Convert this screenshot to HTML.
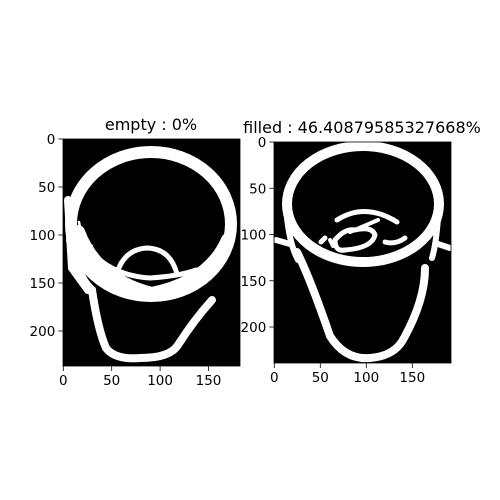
<!DOCTYPE html>
<html><head><meta charset="utf-8">
<style>
html,body{margin:0;padding:0;background:#fff;}
svg{display:block;font-family:"DejaVu Sans","Liberation Sans",sans-serif;}
</style></head>
<body>
<svg id="fig" width="500" height="500" viewBox="0 0 500 500">
<rect x="0" y="0" width="500" height="500" fill="#fff"/>
<text x="151" y="130" font-size="16" text-anchor="middle">empty : 0%</text>
<text x="362" y="133" font-size="16" text-anchor="middle">filled : 46.40879585327668%</text>

<g>
<rect x="63" y="139" width="177" height="227" fill="#000"/>
<g fill="none" stroke="#fff" stroke-linecap="round">
<ellipse cx="151" cy="224" rx="80" ry="72" stroke-width="12"/>
<path d="M78,232 Q96,280 152,294 Q210,282 228,240" stroke-width="14"/>
<path d="M79,222 Q82,240 92,246" stroke-width="2.5"/>
<path d="M101,261 Q120,276 150,278 Q180,276 196,270" stroke-width="5"/>
<path d="M117,273 Q124,250 146,248 Q170,248 177,274" stroke-width="5"/>
<path d="M70,240 Q78,278 92,290 Q98,330 106,348 Q115,360 140,358 Q170,358 178,345 Q194,320 212,300" stroke-width="8"/>
<path d="M68,200 L72,268 L88,290" stroke-width="8"/>
</g>
</g>

<g>
<rect x="274" y="142" width="177" height="221" fill="#000"/>
<g fill="none" stroke="#fff" stroke-linecap="round">
<ellipse cx="363" cy="204" rx="76" ry="58" stroke-width="10"/>
<path d="M337,220 Q365,202 397,222" stroke-width="5"/>
<path d="M297,252 Q310,278 330,336 Q345,360 370,358 Q395,356 404,338 Q425,300 425,268" stroke-width="8"/>
<path d="M287,218 Q290,245 298,260" stroke-width="6"/>
<path d="M438,218 Q436,245 432,258" stroke-width="6"/>
<path d="M276,240 L290,244" stroke-width="6"/>
<path d="M438,244 L450,248" stroke-width="6"/>
<path d="M335,240 Q345,228 355,230 Q372,226 375,235 Q372,248 345,250 Q335,252 335,240 Z" stroke-width="5"/>
<path d="M325,238 L321,242" stroke-width="5"/>
<path d="M350,232 L378,220" stroke-width="4"/>
<path d="M385,242 Q395,245 405,238" stroke-width="5"/>
<path d="M330,240 L333,246" stroke-width="4"/>
</g>
</g>

<g id="axes" stroke="#000" stroke-width="0.8" fill="none">
<rect x="63" y="139" width="177" height="227"/>
<rect x="274" y="142" width="177" height="221"/>
</g>
<g id="ticks"></g>
</svg>
<script>
const leftXTicks=[0,50,100,150];
const leftYTicks=[0,50,100,150,200];
const rightXTicks=[0,50,100,150];
const rightYTicks=[0,50,100,150,200];
const NS="http://www.w3.org/2000/svg";
const g=document.getElementById('ticks');
function mk(tag,attrs){const e=document.createElementNS(NS,tag);for(const k in attrs)e.setAttribute(k,attrs[k]);g.appendChild(e);return e;}
function drawAxes(prefix,x0,y0,bottom,sx,sy,xt,yt){
  xt.forEach(v=>{
    const x=x0+v*sx;
    const l=mk('line',{x1:x,x2:x,y1:bottom,y2:bottom+5,stroke:'#000','stroke-width':0.8});
    
    
    const t=mk('text',{x:x,y:bottom+19,'font-size':13.5,'text-anchor':'middle',fill:'#000'});
    t.textContent=v;
    
    
  });
  yt.forEach(v=>{
    const y=y0+v*sy;
    const l=mk('line',{x1:x0-5,x2:x0,y1:y,y2:y,stroke:'#000','stroke-width':0.8});
    
    
    const t=mk('text',{x:x0-8,y:y+5,'font-size':13.5,'text-anchor':'end',fill:'#000'});
    t.textContent=v;
    
    
  });
}
drawAxes('left',63.3,139,366,0.968,0.96,leftXTicks,leftYTicks);
drawAxes('right',274.3,142,363,0.92,0.925,rightXTicks,rightYTicks);
</script>
</body></html>
